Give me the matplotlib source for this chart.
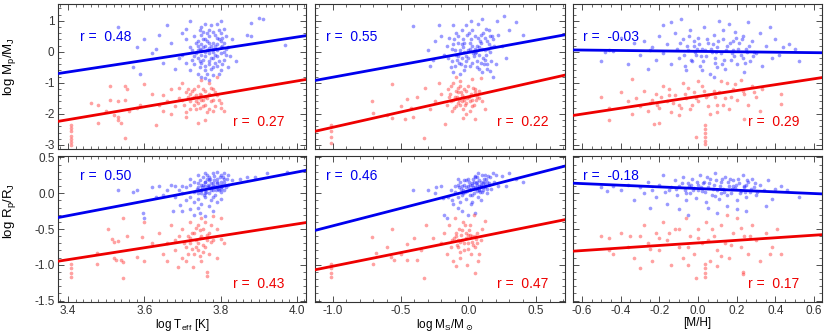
import numpy as np
import matplotlib
matplotlib.use("Agg")
import matplotlib.pyplot as plt
from matplotlib.ticker import MultipleLocator

plt.rcParams['font.family'] = ['Liberation Sans', 'DejaVu Sans']
plt.rcParams['axes.unicode_minus'] = False

# points, (x, y) per planet
# top row: log Mp/MJ, bottom row: log Rp/RJ
tl_blue = [(3.53, 0.80), (3.58, 0.17), (3.57, -0.48), (3.59, -0.70), (3.60, 0.41), (3.66, 0.86), (3.64, 0.54),
           (3.72, 1.00), (3.90, 1.10), (3.91, 1.05), (3.88, 0.93), (3.87, 0.54), (3.88, 0.50), (3.97, 0.22),
           (3.84, -0.30), (3.62, -0.05), (3.65, -0.35), (3.63, 0.10), (3.67, 0.30), (3.68, -0.55), (3.70, 0.60),
           (3.69, -0.20), (3.71, 0.75), (3.74, 0.05), (3.75, -0.10), (3.76, 0.20), (3.77, -0.30), (3.78, 0.10),
           (3.79, 0.45), (3.80, -0.05), (3.81, 0.30), (3.75, 0.55), (3.73, -0.40), (3.76, -0.60), (3.78, -0.75),
           (3.77, 0.70), (3.79, 0.90), (3.80, 1.00), (3.74, 0.35), (3.72, 0.15), (3.73, -0.15), (3.76, 0.00),
           (3.77, 0.12), (3.78, -0.20), (3.79, -0.45), (3.80, 0.60), (3.81, -0.25), (3.82, 0.15), (3.74, -0.70),
           (3.75, 0.80), (3.76, 0.40), (3.77, -0.05), (3.78, 0.30), (3.79, 0.05), (3.80, -0.60), (3.81, 0.75),
           (3.75, -0.35), (3.76, -0.15), (3.77, 0.50), (3.78, -0.50), (3.79, 0.25), (3.80, 0.15), (3.73, 0.50),
           (3.74, -0.20), (3.75, 0.25), (3.76, -0.85), (3.77, -0.40), (3.78, 0.65), (3.72, -0.60), (3.71, 0.40),
           (3.70, -0.10), (3.71, -0.35), (3.82, -0.50), (3.83, 0.40), (3.76, 0.90), (3.77, 0.30), (3.78, 0.00),
           (3.79, -0.15), (3.80, 0.35), (3.74, 0.20), (3.75, 0.05), (3.76, -0.45), (3.81, 0.00), (3.77, -0.90),
           (3.75, -0.80),
           (3.745, 0.10), (3.755, -0.25), (3.765, 0.35), (3.775, -0.55), (3.785, 0.20), (3.795, -0.30), (3.805, 0.45),
           (3.815, -0.10), (3.735, 0.30), (3.725, -0.25), (3.765, -0.70), (3.785, 0.55), (3.795, 0.70), (3.805, -0.40),
           (3.745, -0.50), (3.755, 0.40), (3.775, 0.20), (3.785, -0.10), (3.765, 0.05), (3.755, 0.65), (3.815, 0.50),
           (3.825, -0.15), (3.735, -0.05), (3.775, 0.85), (3.795, -0.70), (3.805, 0.20), (3.745, -0.30), (3.765, 0.60),
           (3.785, -0.35), (3.755, 0.15), (3.725, 0.05), (3.815, 0.10), (3.775, -0.20), (3.795, 0.40), (3.745, 0.70)]
tl_red = [(3.407, -2.35), (3.407, -2.45), (3.407, -2.55), (3.407, -2.70), (3.407, -2.80), (3.407, -2.92),
          (3.407, -3.00), (3.51, -1.10), (3.55, -1.10), (3.555, -1.20), (3.48, -1.70), (3.48, -2.30), (3.51, -1.55),
          (3.52, -2.05), (3.53, -2.20), (3.54, -2.30), (3.53, -2.10), (3.55, -2.78), (3.60, -1.05), (3.59, -1.70),
          (3.58, -1.80), (3.63, -2.35), (3.53, -1.60), (3.55, -1.55), (3.56, -1.90), (3.50, -1.90), (3.46, -1.65),
          (3.74, -2.30), (3.76, -2.20), (3.80, -1.80), (3.79, -0.80), (3.65, -1.40), (3.66, -1.60), (3.67, -1.20),
          (3.68, -1.75), (3.69, -1.50), (3.70, -1.00), (3.71, -1.30), (3.72, -1.60), (3.73, -1.45), (3.74, -1.10),
          (3.75, -1.55), (3.76, -1.70), (3.77, -1.35), (3.78, -1.20), (3.72, -1.85), (3.73, -1.20), (3.74, -1.65),
          (3.75, -1.40), (3.76, -1.25), (3.77, -1.85), (3.78, -1.55), (3.79, -1.40), (3.80, -1.65), (3.71, -1.95),
          (3.70, -1.55), (3.69, -1.15), (3.64, -1.70), (3.62, -1.35), (3.67, -2.00), (3.75, -0.90), (3.77, -1.00),
          (3.74, -1.50), (3.73, -1.70), (3.76, -1.45), (3.72, -1.35), (3.81, -1.90), (3.78, -1.90), (3.71, -2.10),
          (3.65, -1.90),
          (3.715, -1.45), (3.725, -1.25), (3.735, -1.60), (3.745, -1.35), (3.755, -1.75), (3.765, -1.50),
          (3.775, -1.60), (3.785, -1.30), (3.705, -1.70), (3.735, -1.85), (3.755, -1.20), (3.765, -1.95),
          (3.745, -1.80), (3.725, -1.50), (3.775, -1.15), (3.795, -1.55), (3.715, -1.20), (3.755, -1.55),
          (3.735, -1.40), (3.785, -1.75)]
tm_blue = [(-0.41, 0.82), (-0.22, 0.87), (-0.11, 0.87), (0.40, 0.55), (0.26, 1.14), (0.21, 0.98), (0.16, 0.50),
           (-0.28, -0.46), (-0.26, -0.25), (0.16, -0.62), (0.18, -0.80), (-0.30, 0.05), (-0.25, 0.35), (0.30, 0.70),
           (0.35, 0.95), (-0.18, -0.10), (-0.20, 0.50), (0.25, 0.20), (0.28, -0.20), (0.10, 1.05), (0.02, 1.00),
           (-0.05, 0.70), (-0.15, -0.20), (-0.12, 0.10), (-0.10, -0.45), (-0.08, 0.30), (-0.06, -0.05), (-0.04, 0.15),
           (-0.02, -0.30), (0.00, 0.05), (0.02, 0.40), (0.04, -0.15), (0.06, 0.20), (0.08, -0.55), (0.10, 0.10),
           (0.12, -0.25), (0.14, 0.35), (0.16, 0.00), (-0.14, 0.45), (-0.11, -0.65), (-0.09, 0.60), (-0.07, -0.35),
           (-0.05, 0.25), (-0.03, -0.60), (-0.01, 0.55), (0.01, -0.45), (0.03, 0.70), (0.05, -0.05), (0.07, 0.45),
           (0.09, -0.35), (0.11, 0.60), (0.13, -0.10), (0.15, 0.25), (0.18, 0.40), (0.20, -0.40), (-0.16, 0.20),
           (-0.13, -0.50), (-0.10, 0.05), (-0.06, -0.70), (-0.03, 0.00), (0.00, -0.20), (0.03, 0.20), (0.06, -0.30),
           (0.09, 0.30), (0.12, 0.05), (0.14, -0.40), (0.17, 0.15), (-0.08, -0.15), (-0.04, 0.40), (0.01, 0.10),
           (0.05, 0.50), (0.08, -0.10), (-0.12, -0.30), (0.10, -0.65), (-0.02, 0.85), (0.07, 0.90), (0.13, 0.75),
           (0.22, 0.55),
           (-0.115, 0.25), (-0.095, -0.10), (-0.075, 0.50), (-0.055, -0.40), (-0.035, 0.30), (-0.015, -0.15),
           (0.005, 0.60), (0.025, -0.35), (0.045, 0.10), (0.065, -0.50), (0.085, 0.35), (0.105, -0.20), (0.125, 0.45),
           (0.145, 0.10), (0.165, -0.30), (0.185, 0.20), (-0.105, 0.40), (-0.065, 0.05), (-0.025, -0.45),
           (0.015, 0.30), (0.055, 0.00), (0.095, 0.55), (0.135, -0.55), (0.175, 0.50), (-0.045, -0.20),
           (0.035, -0.05), (0.075, 0.15), (0.115, -0.40), (-0.085, -0.25), (0.155, 0.70)]
tm_red = [(-1.01, -2.35), (-1.01, -2.55), (-1.01, -2.75), (-1.01, -2.95), (-0.71, -1.59), (-0.70, -1.96),
          (-0.56, -1.03), (-0.56, -2.12), (-0.45, -1.53), (-0.42, -1.80), (-0.41, -2.10), (-0.33, -2.76),
          (-0.32, -1.16), (-0.22, -1.00), (-0.17, -2.33), (-0.04, -2.12), (0.05, -2.17), (0.03, -0.89), (0.09, -0.84),
          (0.12, -1.85), (-0.28, -1.85), (-0.50, -1.75), (-0.38, -1.45), (-0.60, -2.05), (-0.47, -2.15),
          (-0.25, -1.60), (-0.20, -1.35), (-0.15, -1.20), (-0.13, -1.60), (-0.11, -1.00), (-0.10, -1.45),
          (-0.09, -1.75), (-0.08, -1.30), (-0.07, -1.55), (-0.06, -0.95), (-0.05, -1.40), (-0.04, -1.85),
          (-0.03, -1.20), (-0.02, -1.65), (-0.01, -1.50), (0.00, -1.10), (0.02, -1.35), (0.04, -1.70), (0.06, -1.45),
          (0.08, -1.25), (-0.12, -1.90), (-0.14, -1.45), (-0.08, -1.15), (-0.06, -1.70), (-0.03, -1.45),
          (0.01, -1.90), (0.03, -1.55), (0.05, -1.20), (0.10, -1.60), (-0.16, -1.70), (-0.09, -0.80), (-0.02, -2.00),
          (-0.135, -1.35), (-0.115, -1.55), (-0.095, -1.25), (-0.075, -1.65), (-0.055, -1.30), (-0.035, -1.55),
          (-0.015, -1.25), (0.005, -1.45), (0.025, -1.75), (0.045, -1.30), (-0.105, -1.80), (-0.065, -1.10),
          (-0.025, -1.70), (0.015, -1.60), (0.055, -1.55), (-0.085, -1.45), (-0.045, -1.60), (0.035, -1.15),
          (-0.125, -1.10), (0.075, -1.50)]
tr_blue = [(-0.50, -0.30), (-0.48, 0.00), (-0.44, 0.02), (-0.36, -0.40), (-0.33, 0.30), (-0.30, -0.10),
           (-0.28, 0.35), (-0.26, -0.55), (-0.24, 0.15), (-0.22, -0.25), (-0.20, 0.50), (-0.18, 0.85), (-0.18, -0.05),
           (-0.16, 0.25), (-0.14, -0.40), (-0.12, 0.60), (-0.11, 0.10), (-0.10, -0.20), (-0.09, 1.05), (-0.08, 0.40),
           (-0.06, -0.60), (-0.05, 0.05), (-0.04, 0.70), (-0.03, -0.30), (-0.02, 0.20), (-0.01, -0.10), (0.00, 0.45),
           (0.01, -0.45), (0.02, 0.10), (0.03, 0.80), (0.04, -0.15), (0.05, 0.30), (0.06, -0.70), (0.07, 0.00),
           (0.08, 0.55), (0.09, -0.35), (0.10, 0.15), (0.11, 1.00), (0.12, -0.05), (0.13, 0.40), (0.14, -0.55),
           (0.15, 0.20), (0.16, 0.90), (0.17, -0.25), (0.18, 0.05), (0.19, 0.65), (0.20, -0.40), (0.21, 0.30),
           (0.22, -0.10), (0.23, 0.50), (0.24, -0.65), (0.25, 0.10), (0.26, 0.95), (0.27, -0.30), (0.28, 0.35),
           (0.30, -0.05), (0.32, 0.60), (0.33, -0.45), (0.35, 0.20), (0.37, 0.80), (0.38, -0.20), (0.40, 0.40),
           (0.42, -0.10), (0.44, 0.15), (0.47, 0.25), (0.52, -0.30), (0.50, 0.10), (-0.40, 0.45), (-0.14, 0.95),
           (0.08, -0.80), (0.13, 0.70), (0.02, -0.60), (-0.07, -0.45), (0.18, 0.35), (0.23, -0.20), (-0.02, 0.35),
           (0.10, -0.50), (0.29, 0.00), (-0.46, 0.05), (-0.25, 0.05),
           (-0.095, 0.30), (-0.075, -0.10), (-0.055, 0.20), (-0.035, -0.25), (-0.015, 0.00), (0.005, 0.25),
           (0.025, -0.30), (0.045, 0.40), (0.065, 0.10), (0.085, -0.20), (0.105, 0.35), (0.125, -0.40), (0.145, 0.05),
           (0.165, 0.30), (0.185, -0.15), (0.205, 0.10), (0.225, 0.40), (0.245, -0.35), (0.265, 0.20),
           (0.285, -0.15), (-0.045, 0.50), (0.015, -0.15), (0.075, 0.25), (0.135, -0.25), (0.195, 0.45),
           (0.255, 0.00), (-0.005, 0.10), (0.095, 0.00), (0.175, -0.05), (0.035, 0.05)]
tr_red = [(0.036, -2.37), (0.036, -2.50), (0.036, -2.62), (0.036, -2.75), (0.036, -2.88), (0.036, -2.97),
          (-0.01, -2.73), (-0.50, -1.45), (-0.46, -1.80), (-0.46, -2.20), (-0.34, -0.89), (-0.34, -2.00),
          (-0.23, -2.33), (-0.20, -2.28), (0.43, -1.37), (0.43, -1.69), (0.33, -1.20), (0.24, -2.17), (-0.40, -1.30),
          (-0.36, -1.60), (-0.32, -1.50), (-0.30, -1.75), (-0.28, -1.25), (-0.26, -1.90), (-0.24, -1.55),
          (-0.22, -1.35), (-0.20, -1.80), (-0.18, -1.10), (-0.16, -1.60), (-0.14, -1.95), (-0.12, -1.40),
          (-0.10, -1.70), (-0.08, -1.00), (-0.06, -1.50), (-0.04, -1.85), (-0.02, -1.30), (0.00, -1.60),
          (0.02, -1.10), (0.04, -1.45), (0.06, -2.00), (0.08, -1.25), (0.10, -1.70), (0.12, -0.95), (0.14, -1.50),
          (0.16, -1.85), (0.18, -1.20), (0.20, -1.55), (0.22, -0.90), (0.24, -1.35), (0.26, -1.70), (0.28, -1.10),
          (0.30, -1.45), (0.32, -1.90), (-0.10, -2.05), (0.00, -0.95), (-0.15, -1.20), (0.15, -1.00), (0.05, -1.75),
          (-0.05, -1.15), (0.10, -1.95),
          (-0.25, -1.65), (-0.19, -1.45), (-0.13, -1.65), (-0.07, -1.35), (-0.01, -1.50), (0.05, -1.40),
          (0.11, -1.30), (0.17, -1.45), (0.23, -1.25), (0.29, -1.30), (-0.21, -1.70), (-0.09, -1.80), (0.03, -1.25),
          (0.13, -1.70), (0.19, -1.05), (0.09, -1.45), (-0.03, -1.70), (-0.15, -1.40)]
bl_blue = [(3.532, 0.04), (3.571, 0.02), (3.58, 0.05), (3.598, -0.28), (3.60, -0.34), (3.676, -0.25), (3.694, -0.16),
           (3.74, -0.20), (3.746, -0.28), (3.869, 0.22), (3.921, 0.28), (3.973, 0.30), (3.85, 0.20), (3.89, 0.22),
           (3.62, 0.08), (3.64, 0.10), (3.65, -0.02), (3.66, 0.05), (3.67, 0.12), (3.68, -0.05), (3.63, -0.05),
           (3.70, -0.25), (3.72, -0.22), (3.76, -0.32), (3.78, -0.25), (3.73, -0.30), (3.70, 0.00), (3.71, 0.08),
           (3.72, -0.05), (3.72, 0.12), (3.73, 0.02), (3.73, 0.15), (3.74, -0.08), (3.74, 0.08), (3.745, 0.18),
           (3.75, 0.00), (3.75, 0.12), (3.755, 0.22), (3.76, -0.05), (3.76, 0.05), (3.76, 0.15), (3.765, 0.25),
           (3.77, 0.00), (3.77, 0.10), (3.77, 0.18), (3.775, -0.10), (3.78, 0.05), (3.78, 0.14), (3.78, 0.28),
           (3.785, -0.02), (3.79, 0.08), (3.79, 0.20), (3.79, 0.30), (3.795, 0.12), (3.80, 0.02), (3.80, 0.16),
           (3.80, 0.25), (3.805, 0.10), (3.81, 0.05), (3.81, 0.20), (3.82, 0.12), (3.82, 0.25), (3.83, 0.18),
           (3.74, 0.25), (3.76, 0.28), (3.75, -0.15), (3.77, -0.18), (3.79, -0.12), (3.73, -0.12), (3.71, -0.10),
           (3.80, -0.08), (3.78, -0.05), (3.76, 0.10), (3.75, 0.05), (3.77, 0.22), (3.79, 0.15), (3.81, 0.28),
           (3.74, 0.00), (3.72, 0.20), (3.70, 0.10), (3.69, 0.05), (3.68, 0.10), (3.76, 0.00), (3.78, 0.10),
           (3.80, 0.08),
           (3.752, 0.08), (3.758, 0.16), (3.762, 0.02), (3.768, 0.12), (3.772, 0.20), (3.778, 0.08), (3.782, 0.18),
           (3.788, 0.04), (3.792, 0.14), (3.798, 0.22), (3.802, 0.06), (3.808, 0.16), (3.812, 0.12), (3.818, 0.20),
           (3.748, 0.04), (3.742, 0.14), (3.738, 0.06), (3.766, 0.08), (3.776, 0.14), (3.786, 0.10), (3.796, 0.04),
           (3.806, 0.22), (3.756, -0.02), (3.764, 0.20), (3.784, 0.24), (3.794, 0.06), (3.774, 0.04), (3.754, 0.12),
           (3.804, 0.12), (3.814, 0.08)]
bl_red = [(3.407, -0.99), (3.407, -1.05), (3.407, -1.11), (3.407, -1.17), (3.506, -0.50), (3.515, -0.64),
          (3.52, -0.68), (3.53, -0.67), (3.52, -0.90), (3.525, -0.94), (3.54, -0.94), (3.545, -0.96), (3.545, -1.19),
          (3.475, -0.99), (3.475, -0.83), (3.545, -0.34), (3.554, -0.60), (3.58, -0.89), (3.593, -0.61),
          (3.60, -0.95), (3.62, -0.70), (3.60, -0.40), (3.689, -1.03), (3.729, -1.03), (3.764, -1.10),
          (3.764, -1.15), (3.80, -0.64), (3.80, -0.34), (3.78, -0.32), (3.64, -0.55), (3.65, -0.85), (3.66, -0.70),
          (3.67, -0.45), (3.68, -0.80), (3.69, -0.60), (3.70, -0.90), (3.70, -0.50), (3.71, -0.75), (3.72, -0.40),
          (3.72, -0.62), (3.73, -0.85), (3.73, -0.55), (3.74, -0.70), (3.74, -0.45), (3.75, -0.95), (3.75, -0.60),
          (3.76, -0.75), (3.76, -0.40), (3.77, -0.55), (3.77, -0.85), (3.78, -0.65), (3.79, -0.50), (3.79, -0.90),
          (3.81, -0.70), (3.71, -0.95), (3.74, -0.80), (3.72, -0.70), (3.75, -0.35), (3.68, -0.65), (3.66, -0.95),
          (3.715, -0.60), (3.725, -0.78), (3.735, -0.65), (3.745, -0.52), (3.755, -0.72), (3.765, -0.58),
          (3.775, -0.68), (3.735, -0.48), (3.745, -0.88), (3.725, -0.55), (3.755, -0.82), (3.765, -0.66),
          (3.705, -0.70), (3.775, -0.45), (3.715, -0.85), (3.745, -0.62), (3.735, -0.75), (3.755, -0.50)]
bm_blue = [(-0.41, 0.04), (-0.25, 0.00), (-0.24, 0.09), (-0.19, -0.07), (-0.18, -0.30), (-0.16, -0.34),
           (-0.08, -0.21), (0.30, 0.28), (0.40, 0.16), (0.25, 0.24), (0.18, 0.28), (-0.30, 0.05), (-0.20, 0.10),
           (0.00, -0.30), (0.05, -0.28), (-0.05, -0.25), (0.35, 0.20), (0.28, 0.10), (-0.15, -0.05), (-0.13, 0.05),
           (-0.12, -0.10), (-0.10, 0.02), (-0.10, 0.10), (-0.08, -0.05), (-0.07, 0.08), (-0.06, 0.15), (-0.05, -0.02),
           (-0.04, 0.05), (-0.03, 0.12), (-0.02, -0.08), (-0.01, 0.03), (0.00, 0.10), (0.00, 0.20), (0.01, -0.03),
           (0.02, 0.06), (0.03, 0.14), (0.04, 0.00), (0.05, 0.08), (0.05, 0.22), (0.06, 0.12), (0.07, -0.05),
           (0.08, 0.05), (0.08, 0.18), (0.09, 0.10), (0.10, 0.25), (0.10, 0.02), (0.11, 0.14), (0.12, 0.08),
           (0.13, 0.20), (0.14, 0.00), (0.15, 0.12), (0.16, 0.22), (0.17, 0.06), (0.19, 0.15), (0.20, 0.25),
           (0.22, 0.10), (-0.08, 0.20), (-0.11, -0.15), (0.03, -0.12), (0.07, 0.28), (0.12, 0.26), (-0.02, 0.18),
           (0.04, 0.15), (0.06, 0.03), (0.09, -0.10), (-0.06, -0.12), (0.14, 0.16), (0.01, 0.12), (-0.04, 0.00),
           (0.02, -0.15), (0.11, 0.05),
           (-0.075, 0.12), (-0.055, 0.06), (-0.035, 0.18), (-0.015, 0.08), (0.005, 0.16), (0.015, 0.04),
           (0.025, 0.12), (0.035, 0.20), (0.045, 0.06), (0.055, 0.14), (0.065, 0.22), (0.075, 0.10), (0.085, 0.02),
           (0.095, 0.16), (0.105, 0.08), (0.115, 0.20), (0.125, 0.12), (0.135, 0.06), (0.145, 0.24), (0.155, 0.14),
           (-0.025, 0.02), (0.035, 0.08), (0.065, 0.16), (0.095, 0.12), (0.005, 0.06), (-0.045, 0.10),
           (0.075, 0.04), (0.115, 0.16), (0.045, 0.24), (0.025, -0.02)]
bm_red = [(-1.01, -0.99), (-1.01, -1.05), (-1.01, -1.11), (-1.01, -1.17), (-0.71, -0.61), (-0.70, -0.99),
          (-0.68, -0.83), (-0.57, -0.89), (-0.56, -0.50), (-0.55, -0.94), (-0.45, -0.71), (-0.40, -0.62),
          (-0.45, -0.94), (-0.38, -0.94), (-0.33, -1.19), (-0.31, -0.44), (-0.26, -0.62), (0.05, -1.12),
          (0.08, -0.85), (0.12, -0.39), (-0.60, -0.75), (-0.50, -0.85), (-0.35, -0.80), (-0.20, -0.70),
          (-0.18, -0.55), (-0.16, -0.85), (-0.14, -0.45), (-0.12, -0.65), (-0.11, -0.95), (-0.10, -0.35),
          (-0.09, -0.60), (-0.08, -0.75), (-0.07, -0.50), (-0.06, -0.90), (-0.05, -0.65), (-0.04, -0.40),
          (-0.03, -0.80), (-0.02, -0.55), (-0.01, -1.00), (0.00, -0.70), (0.01, -0.45), (0.02, -0.85), (0.03, -0.60),
          (0.04, -0.30), (0.05, -0.75), (0.06, -0.55), (0.07, -0.95), (0.09, -0.65), (0.10, -0.50), (-0.13, -0.75),
          (-0.06, -0.68), (0.00, -0.58), (-0.09, -1.02),
          (-0.095, -0.55), (-0.075, -0.66), (-0.055, -0.58), (-0.035, -0.70), (-0.015, -0.62), (0.005, -0.52),
          (0.025, -0.68), (0.045, -0.60), (-0.085, -0.72), (-0.045, -0.52), (-0.005, -0.78), (0.035, -0.72),
          (0.055, -0.64), (-0.065, -0.82), (-0.025, -0.45), (0.015, -0.58), (-0.105, -0.62), (0.065, -0.70)]
br_blue = [(-0.50, 0.08), (-0.47, 0.03), (-0.44, 0.10), (-0.40, 0.05), (-0.36, 0.12), (-0.33, -0.10), (-0.30, 0.08),
           (-0.28, 0.00), (-0.26, 0.15), (-0.24, 0.05), (-0.22, -0.05), (-0.20, 0.12), (-0.18, 0.25), (-0.17, 0.02),
           (-0.16, -0.15), (-0.14, 0.08), (-0.12, 0.18), (-0.11, -0.02), (-0.10, 0.10), (-0.08, 0.22), (-0.07, 0.04),
           (-0.06, -0.10), (-0.05, 0.14), (-0.04, 0.00), (-0.03, 0.20), (-0.02, 0.07), (-0.01, -0.06), (0.00, 0.12),
           (0.01, 0.26), (0.02, 0.03), (0.03, 0.16), (0.04, -0.12), (0.05, 0.08), (0.06, 0.20), (0.07, -0.02),
           (0.08, 0.12), (0.09, 0.28), (0.10, 0.04), (0.11, -0.08), (0.12, 0.15), (0.13, 0.06), (0.14, 0.22),
           (0.15, -0.03), (0.16, 0.10), (0.17, 0.00), (0.18, 0.18), (0.19, 0.07), (0.20, -0.10), (0.21, 0.14),
           (0.22, 0.03), (0.23, 0.25), (0.24, 0.09), (0.25, -0.05), (0.26, 0.16), (0.27, 0.02), (0.28, 0.20),
           (0.29, 0.08), (0.30, -0.02), (0.32, 0.12), (0.34, 0.05), (0.36, 0.18), (0.38, -0.08), (0.40, 0.06),
           (0.43, 0.10), (0.46, 0.04), (0.52, -0.05), (-0.25, -0.20), (-0.10, -0.22), (0.05, -0.20), (0.15, -0.18),
           (0.25, -0.25), (0.35, -0.18), (-0.05, -0.30), (0.10, -0.28), (0.20, -0.22), (-0.15, 0.05), (0.00, 0.05),
           (0.12, 0.00), (0.18, 0.10), (0.25, 0.12),
           (-0.115, 0.06), (-0.085, 0.14), (-0.065, 0.00), (-0.045, 0.10), (-0.025, 0.04), (-0.005, 0.16),
           (0.015, 0.08), (0.035, 0.02), (0.055, 0.14), (0.075, 0.06), (0.095, 0.18), (0.115, 0.10), (0.135, 0.02),
           (0.155, 0.16), (0.175, 0.06), (0.195, 0.12), (0.215, 0.00), (0.235, 0.10), (0.255, 0.18), (0.275, 0.06),
           (0.295, 0.14), (0.305, 0.02), (0.045, 0.22), (0.165, 0.20), (0.085, -0.04), (0.205, 0.20),
           (-0.035, 0.12), (0.125, 0.20), (0.245, 0.02), (0.025, 0.14)]
br_red = [(0.036, -0.99), (0.036, -1.05), (0.036, -1.11), (0.036, -1.17), (-0.01, -1.18), (0.23, -1.10),
          (0.23, -1.13), (-0.50, -0.60), (-0.46, -0.62), (-0.46, -0.80), (-0.44, -0.85), (-0.40, -0.55),
          (-0.36, -0.75), (-0.33, -0.90), (-0.30, -0.60), (-0.28, -0.45), (-0.26, -0.70), (-0.24, -0.95),
          (-0.22, -0.55), (-0.20, -0.80), (-0.18, -0.40), (-0.16, -0.65), (-0.14, -1.00), (-0.12, -0.50),
          (-0.10, -0.75), (-0.08, -0.90), (-0.06, -0.35), (-0.04, -0.60), (-0.02, -0.85), (0.00, -0.50),
          (0.02, -0.70), (0.04, -0.40), (0.06, -0.95), (0.08, -0.60), (0.10, -0.80), (0.12, -0.45), (0.14, -0.70),
          (0.16, -0.90), (0.18, -0.55), (0.20, -0.35), (0.22, -0.75), (0.24, -0.60), (0.26, -0.85), (0.28, -0.45),
          (0.30, -0.65), (0.32, -0.95), (0.35, -0.55), (0.38, -0.75), (0.41, -0.50), (0.43, -0.85), (-0.05, -1.00),
          (0.10, -1.02), (-0.30, -1.05), (0.15, -0.30), (-0.10, -0.50), (0.05, -0.65),
          (-0.15, -0.55), (-0.05, -0.75), (0.07, -0.50), (0.17, -0.72), (-0.25, -0.78), (0.27, -0.60),
          (-0.35, -0.60), (0.37, -0.85), (0.00, -0.62), (0.12, -0.88), (-0.20, -0.62), (0.22, -0.48)]

# fitted lines (slope, intercept) and correlation coefficients
blue_slope = [1.877, 0.798, -0.070, 1.015, 0.488, -0.116]
blue_icept = [-7.033, -0.02, 0.015, -3.765, 0.032, 0.065]
red_slope = [2.077, 0.982, 0.947, 0.831, 0.380, 0.179]
red_icept = [-9.248, -1.449, -1.437, -3.754, -0.64, -0.694]
blue_r = ['0.48', '0.55', '-0.03', '0.50', '0.46', '-0.18']
red_r = ['0.27', '0.22', '0.29', '0.43', '0.47', '0.17']

blue_pts = [tl_blue, tm_blue, tr_blue, bl_blue, bm_blue, br_blue]
red_pts = [tl_red, tm_red, tr_red, bl_red, bm_red, br_red]

xlims = [(3.374, 4.024), (-1.131, 0.712), (-0.647, 0.641)]
ylims = [(-3.13, 1.54), (-1.52, 0.52)]
xlabels = ['log T$_\\mathregular{eff}$ [K]', 'log M$_\\mathregular{S}$/M$_\\odot$', '[M/H]']
ylabels = ['log M$_\\mathregular{p}$/M$_\\mathregular{J}$', 'log R$_\\mathregular{p}$/R$_\\mathregular{J}$']

fig = plt.figure(figsize=(8.3, 3.32), dpi=100)
W, H = 830.0, 332.0
lefts = [58, 315, 573]
widths = [248, 250, 249]
tops = [4, 156]
heights = [145, 146]

for k in range(6):
    row, col = k // 3, k % 3
    ax = fig.add_axes([lefts[col] / W, 1 - (tops[row] + heights[row]) / H, widths[col] / W, heights[row] / H])
    b = np.array(blue_pts[k])
    r = np.array(red_pts[k])
    ax.scatter(b[:, 0], b[:, 1], s=7, color='#2020ff', alpha=0.45, linewidths=0, zorder=2)
    ax.scatter(r[:, 0], r[:, 1], s=7, color='#ff3030', alpha=0.45, linewidths=0, zorder=2)
    ax.set_xlim(xlims[col])
    ax.set_ylim(ylims[row])
    xs = np.array(xlims[col])
    ax.plot(xs, blue_slope[k] * xs + blue_icept[k], color='#0000ee', lw=2, zorder=3)
    ax.plot(xs, red_slope[k] * xs + red_icept[k], color='#ee0000', lw=2, zorder=3)
    ax.text(0.089 if col == 0 else 0.042, 0.775 if row == 0 else 0.862, 'r =  ' + blue_r[k],
            transform=ax.transAxes, color='#0000ee', fontsize=10, va='center')
    ax.text(0.706 if col == 0 else (0.727 if col == 1 else 0.704), 0.186 if row == 0 else 0.124, 'r =  ' + red_r[k],
            transform=ax.transAxes, color='#ee0000', fontsize=10, va='center')

    # ticks on all four sides, pointing in
    ax.tick_params(which='both', direction='in', top=True, right=True, colors='#333333', labelsize=8.5, pad=2.5)
    ax.tick_params(which='major', length=4, width=0.6)
    ax.tick_params(which='minor', length=2, width=0.5)
    for sp in ax.spines.values():
        sp.set_color('#333333')
        sp.set_linewidth(0.8)

    if col == 0:
        ax.xaxis.set_major_locator(MultipleLocator(0.2))
        ax.xaxis.set_minor_locator(MultipleLocator(0.02))
    elif col == 1:
        ax.xaxis.set_major_locator(MultipleLocator(0.5))
        ax.xaxis.set_minor_locator(MultipleLocator(0.1))
    else:
        ax.xaxis.set_major_locator(MultipleLocator(0.2))
        ax.xaxis.set_minor_locator(MultipleLocator(0.05))
    if row == 0:
        ax.yaxis.set_major_locator(MultipleLocator(1))
        ax.yaxis.set_minor_locator(MultipleLocator(0.2))
        ax.tick_params(labelbottom=False)
    else:
        ax.yaxis.set_major_locator(MultipleLocator(0.5))
        ax.yaxis.set_minor_locator(MultipleLocator(0.1))
        ax.yaxis.set_major_formatter(plt.FormatStrFormatter('%.1f'))
        ax.xaxis.set_major_formatter(plt.FormatStrFormatter('%.1f'))
        ax.set_xlabel(xlabels[col], fontsize=8.5)
        ax.xaxis.set_label_coords(0.5 if col != 1 else 0.52, -0.1)
    if col == 0:
        ax.set_ylabel(ylabels[row], fontsize=9.5)
        ax.yaxis.set_label_coords(-0.16, 0.57 if row == 0 else 0.62)
    else:
        ax.tick_params(labelleft=False)

fig.savefig('out.png', dpi=100)
